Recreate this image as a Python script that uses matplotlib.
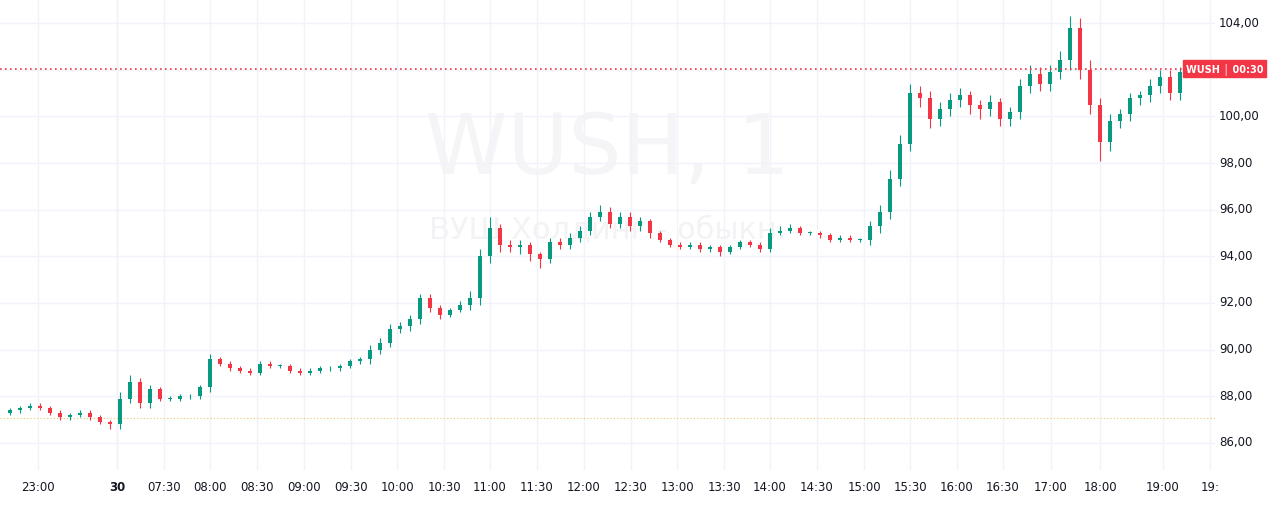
import matplotlib.pyplot as plt
import numpy as np

# closes (one candle per ~10 px)
closes = [87.4, 87.5, 87.6, 87.5, 87.3, 87.1, 87.2, 87.3, 87.1, 86.9,
          86.8, 87.9, 88.6, 87.7, 88.3, 87.9, 87.9, 88.0, 88.0, 88.4,
          89.6, 89.4, 89.2, 89.1, 89.0, 89.4, 89.3, 89.3, 89.1, 89.0,
          89.1, 89.2, 89.2, 89.3, 89.5, 89.6, 90.0, 90.3, 90.9, 91.0,
          91.3, 92.2, 91.8, 91.5, 91.7, 91.9, 92.2, 94.0, 95.2, 94.5,
          94.4, 94.5, 94.1, 93.9, 94.6, 94.5, 94.8, 95.1, 95.7, 95.9,
          95.4, 95.7, 95.3, 95.5, 95.0, 94.7, 94.5, 94.4, 94.5, 94.3,
          94.4, 94.2, 94.4, 94.6, 94.5, 94.3, 95.0, 95.1, 95.2, 95.0,
          95.0, 94.9, 94.7, 94.8, 94.7, 94.7, 95.3, 95.9, 97.3, 98.8,
          101.0, 100.8, 99.9, 100.3, 100.7, 100.9, 100.5, 100.3, 100.6, 99.9,
          100.2, 101.3, 101.8, 101.4, 101.9, 102.4, 103.8, 102.0, 100.5, 98.9,
          99.8, 100.1, 100.8, 100.9, 101.3, 101.7, 101.0, 101.9]
first_open = 87.3
up_wick = [0.1, 0.1, 0.1, 0.1, 0.1, 0.1, 0.1, 0.1, 0.1, 0.1,
           0.1, 0.3, 0.3, 0.2, 0.2, 0.1, 0.1, 0.1, 0.1, 0.1,
           0.2, 0.1, 0.1, 0.1, 0.1, 0.1, 0.1, 0.1, 0.1, 0.1,
           0.1, 0.1, 0.1, 0.1, 0.1, 0.1, 0.2, 0.2, 0.2, 0.2,
           0.2, 0.2, 0.2, 0.1, 0.1, 0.2, 0.3, 0.3, 0.5, 0.2,
           0.2, 0.2, 0.1, 0.1, 0.2, 0.2, 0.2, 0.2, 0.2, 0.3,
           0.2, 0.2, 0.2, 0.2, 0.1, 0.1, 0.1, 0.1, 0.1, 0.1,
           0.1, 0.1, 0.1, 0.1, 0.1, 0.1, 0.2, 0.2, 0.2, 0.1,
           0.1, 0.1, 0.1, 0.1, 0.1, 0.1, 0.2, 0.3, 0.4, 0.4,
           0.4, 0.3, 0.3, 0.3, 0.3, 0.3, 0.2, 0.2, 0.3, 0.2,
           0.2, 0.3, 0.4, 0.3, 0.3, 0.4, 0.5, 0.4, 0.4, 0.3,
           0.3, 0.2, 0.2, 0.2, 0.3, 0.3, 0.3, 0.2]
dn_wick = [0.1, 0.1, 0.1, 0.1, 0.1, 0.1, 0.1, 0.1, 0.1, 0.1,
           0.2, 0.2, 0.2, 0.2, 0.2, 0.1, 0.1, 0.1, 0.1, 0.1,
           0.2, 0.1, 0.1, 0.1, 0.1, 0.1, 0.1, 0.1, 0.1, 0.1,
           0.1, 0.1, 0.1, 0.1, 0.1, 0.1, 0.2, 0.2, 0.2, 0.2,
           0.2, 0.2, 0.2, 0.2, 0.1, 0.1, 0.2, 0.3, 0.3, 0.3,
           0.2, 0.3, 0.3, 0.4, 0.2, 0.2, 0.2, 0.2, 0.2, 0.2,
           0.2, 0.2, 0.2, 0.2, 0.2, 0.1, 0.1, 0.1, 0.1, 0.1,
           0.1, 0.2, 0.1, 0.1, 0.1, 0.1, 0.1, 0.1, 0.1, 0.1,
           0.1, 0.1, 0.1, 0.1, 0.1, 0.1, 0.2, 0.3, 0.3, 0.3,
           0.3, 0.4, 0.4, 0.3, 0.3, 0.3, 0.4, 0.4, 0.3, 0.3,
           0.3, 0.3, 0.3, 0.3, 0.3, 0.3, 0.4, 0.4, 0.4, 0.8,
           0.4, 0.3, 0.3, 0.3, 0.3, 0.3, 0.3, 0.3]

last_price = 102.05
prev_close = 87.05
y_ticks = [86, 88, 90, 92, 94, 96, 98, 100, 102, 104]
x_labels = ["23:00", "30", "07:30", "08:00", "08:30", "09:00", "09:30", "10:00",
            "10:30", "11:00", "11:30", "12:00", "12:30", "13:00", "13:30", "14:00",
            "14:30", "15:00", "15:30", "16:00", "16:30", "17:00", "18:00", "19:00", "19:"]
x_label_pos = [2.8, 10.7, 15.4, 20.0, 24.7, 29.4, 34.1, 38.7, 43.4, 48.0,
               52.7, 57.4, 62.1, 66.7, 71.4, 76.0, 80.7, 85.4, 90.0, 94.7,
               99.3, 104.1, 109.0, 115.3, 120.0]

GREEN = "#089981"
RED = "#f23645"

opens = [first_open] + closes[:-1]
highs = [max(o, c) + u for o, c, u in zip(opens, closes, up_wick)]
lows = [min(o, c) - d for o, c, d in zip(opens, closes, dn_wick)]

fig = plt.figure(figsize=(12.8, 5.13), dpi=100)
ax = fig.add_axes([0, 43 / 513, 1215 / 1280, 470 / 513])
ax.set_xlim(-1, 120.5)
ax.set_ylim(84.84, 104.99)

for i, (o, c, h, l) in enumerate(zip(opens, closes, highs, lows)):
    col = GREEN if c >= o else RED
    ax.vlines(i, l, h, color=col, lw=0.8, zorder=3)
    ax.bar(i, max(abs(c - o), 0.03), bottom=min(o, c), width=0.4, color=col, zorder=4)

ax.set_yticks(y_ticks)
ax.set_xticks(x_label_pos)
ax.grid(color="#f0f3fa", lw=1)
ax.tick_params(length=0, labelleft=False, labelbottom=False)
for s in ax.spines.values():
    s.set_visible(False)
ax.axvline(10.7, color="#f5eed8", lw=1, zorder=1)

ax.axhline(last_price, color=RED, ls=(0, (1, 2)), lw=1.2, zorder=5)
ax.axhline(prev_close, color="#e8c860", ls=(0, (1, 2)), lw=0.8, zorder=2)

ax.text(0.5, 0.68, "WUSH, 1", transform=ax.transAxes, ha="center", va="center",
        fontsize=60, color="#f5f5f7", zorder=0)
ax.text(0.5, 0.51, "ВУШ Холдинг - обыкн.", transform=ax.transAxes, ha="center",
        va="center", fontsize=22, color="#f3f3f5", zorder=0)

for lbl, p in zip(x_labels, x_label_pos):
    ax.text(p, 84.84 - 0.75, lbl, ha="center", va="center", fontsize=8.5,
            color="#131722", fontweight="bold" if lbl == "30" else "normal",
            clip_on=False)
for t in y_ticks:
    ax.text(120.9, t, f"{t},00", ha="left", va="center", fontsize=8.5,
            color="#131722", clip_on=False)

ax.text(117.6, last_price, "WUSH │ 00:30", ha="left", va="center", fontsize=7,
        color="white", fontweight="bold", clip_on=False, zorder=6,
        bbox=dict(boxstyle="square,pad=0.3", fc=RED, ec=RED))

fig.savefig("out.png", dpi=100, facecolor="white")
